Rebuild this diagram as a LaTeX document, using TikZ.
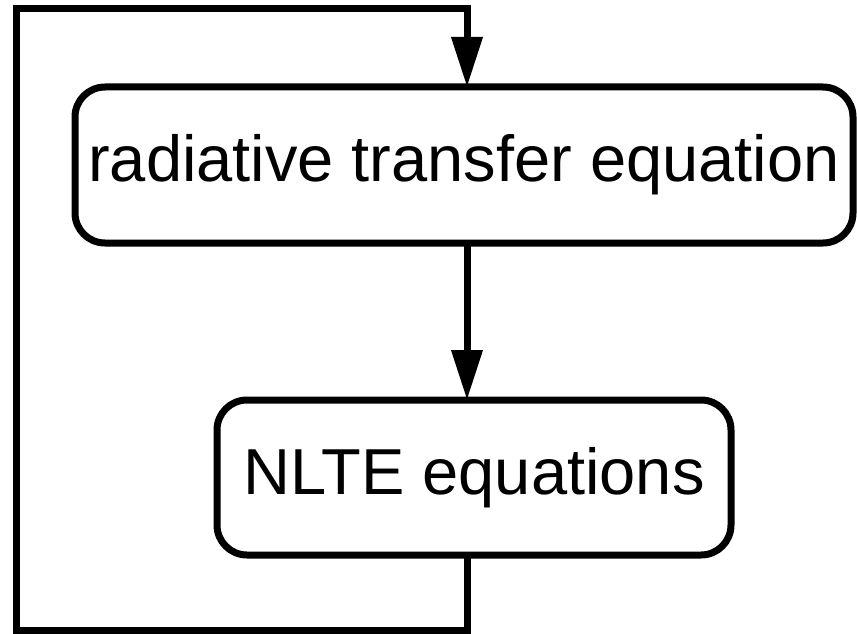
\documentclass[tikz,border=0pt]{standalone}
\usepackage{fontspec}
\setmainfont{Liberation Sans}
\usetikzlibrary{arrows.meta}
\tikzset{
  eqbox/.style={draw, line width=7pt, rounded corners=30pt, inner sep=0pt, outer sep=0pt,
    font=\fontsize{65}{78}\selectfont},
  flow/.style={line width=7pt, -{Triangle[length=50pt,width=30pt]}},
}
\begin{document}
\begin{tikzpicture}[x=1pt,y=-1pt]
  \useasboundingbox (0,0) rectangle (857,634);
  \node[eqbox, minimum width=778pt, minimum height=156pt] (rte) at (464,165) {radiative transfer equation};
  \node[eqbox, minimum width=514pt, minimum height=155pt] (nlte) at (474,477.5) {NLTE equations};
  \coordinate (axis) at (467,0);
  \coordinate (lt) at (16,8.5); \coordinate (lb) at (16,630);
  \draw[flow] (rte.south -| axis) to (nlte.north -| axis);
  \draw[flow] (nlte.south -| axis) |- (lb) -- (lt) -| (rte.north -| axis);
\end{tikzpicture}
\end{document}
